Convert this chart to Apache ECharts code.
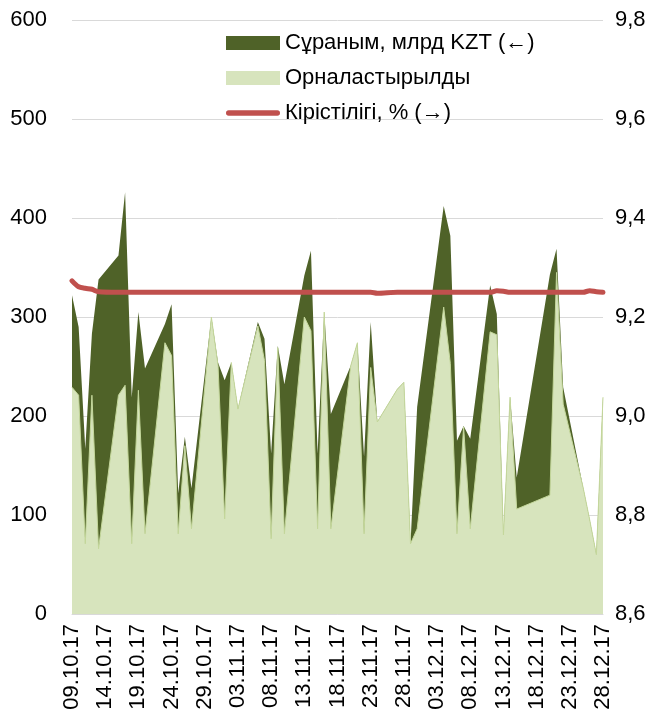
<!DOCTYPE html>
<html>
<head>
<meta charset="utf-8">
<script src="https://cdn.jsdelivr.net/npm/echarts@6/dist/echarts.min.js"></script>
<style>
  html, body { margin: 0; padding: 0; background: #fff; }
  #chart { width: 662px; height: 715px; }
</style>
</head>
<body>
<div id="chart"></div>
<script>
// auction days and values
var dates = ['09.10.17', '10.10.17', '11.10.17', '12.10.17', '13.10.17', '16.10.17', '17.10.17', '18.10.17', '19.10.17', '20.10.17',
  '23.10.17', '24.10.17', '25.10.17', '26.10.17', '27.10.17', '30.10.17', '31.10.17', '01.11.17', '02.11.17', '03.11.17',
  '06.11.17', '07.11.17', '08.11.17', '09.11.17', '10.11.17', '13.11.17', '14.11.17', '15.11.17', '16.11.17', '17.11.17',
  '20.11.17', '21.11.17', '22.11.17', '23.11.17', '24.11.17', '27.11.17', '28.11.17', '29.11.17', '30.11.17',
  '04.12.17', '05.12.17', '06.12.17', '07.12.17', '08.12.17', '11.12.17', '12.12.17', '13.12.17', '14.12.17', '15.12.17',
  '20.12.17', '21.12.17', '22.12.17', '25.12.17', '26.12.17', '27.12.17', '28.12.17']
var demand = [322, 290, 167, 283, 338, 362, 426, 219, 305, 248,
  293, 313, 122, 179, 127, 300, 254, 236, 254, 207,
  295, 278, 162, 271, 232, 342, 367, 162, 305, 202,
  251, 274, 159, 295, 194, 227, 234, 71, 209,
  412, 382, 175, 190, 177, 332, 303, 80, 219, 138,
  343, 369, 229, 128, 95, 60, 219]
var placed = [229, 221, 71, 221, 66, 221, 231, 71, 226, 81,
  274, 261, 81, 170, 86, 300, 251, 96, 254, 207,
  291, 256, 76, 269, 81, 300, 286, 86, 305, 86,
  251, 274, 81, 249, 194, 227, 234, 71, 86,
  310, 253, 81, 189, 86, 285, 282, 80, 219, 106,
  120, 345, 212, 128, 95, 60, 219]
var yieldPct = [9.273, 9.261, 9.258, 9.256, 9.251, 9.25, 9.25, 9.25, 9.25, 9.25,
  9.25, 9.25, 9.25, 9.25, 9.25, 9.25, 9.25, 9.25, 9.25, 9.25,
  9.25, 9.25, 9.25, 9.25, 9.25, 9.25, 9.25, 9.25, 9.25, 9.25,
  9.25, 9.25, 9.25, 9.25, 9.248, 9.25, 9.25, 9.25, 9.25,
  9.25, 9.25, 9.25, 9.25, 9.25, 9.25, 9.253, 9.252, 9.25, 9.25,
  9.25, 9.25, 9.25, 9.25, 9.253, 9.251, 9.25]
var names = ['Сұраным, млрд KZT (←)', 'Орналастырылды', 'Кірістілігі, % (→)']

// calendar axis: every day from first to last date
function parse(s) {
  var p = s.split('.')
  return Date.UTC(2000 + +p[2], +p[1] - 1, +p[0])
}
function fmt(t) {
  var d = new Date(t)
  var dd = ('0' + d.getUTCDate()).slice(-2)
  var mm = ('0' + (d.getUTCMonth() + 1)).slice(-2)
  return dd + '.' + mm + '.' + String(d.getUTCFullYear()).slice(-2)
}
var days = []
for (var t = parse(dates[0]); t <= parse(dates[dates.length - 1]); t += 86400000) {
  days.push(fmt(t))
}
function spread(vals) {
  var out = days.map(function () { return null })
  dates.forEach(function (d, i) { out[days.indexOf(d)] = vals[i] })
  return out
}

var font = "'Liberation Sans', Arial, sans-serif"
var chart = echarts.init(document.getElementById('chart'))
chart.setOption({
  animation: false,
  textStyle: { fontFamily: font },
  grid: { left: 72, right: 59, top: 20, bottom: 101, outerBoundsMode: 'none' },
  legend: {
    orient: 'vertical',
    left: 221,
    top: 27,
    itemWidth: 54,
    itemHeight: 14,
    itemGap: 13,
    padding: [5, 8, 4, 5],
    textStyle: { fontFamily: font, fontSize: 22, color: '#000' },
    data: [
      { name: names[0], icon: 'rect', itemStyle: { color: '#4F6228' } },
      { name: names[1], icon: 'rect', itemStyle: { color: '#D7E4BD' } },
      {
        name: names[2],
        icon: 'path://M5,0 L95,0 A5,5 0 0 1 95,10 L5,10 A5,5 0 0 1 5,0 Z',
        itemStyle: { color: '#C0504D', borderWidth: 0 }
      }
    ]
  },
  xAxis: {
    type: 'category',
    data: days,
    boundaryGap: false,
    axisTick: { show: false },
    axisLine: { lineStyle: { color: '#D9D9D9', width: 1 } },
    axisLabel: { interval: 4, rotate: 90, margin: 10, fontSize: 22, color: '#000', fontFamily: font }
  },
  yAxis: [{
    type: 'value',
    min: 0,
    max: 600,
    interval: 100,
    axisLine: { show: false },
    axisTick: { show: false },
    splitLine: { lineStyle: { color: '#D9D9D9', width: 1 } },
    axisLabel: { margin: 25, fontSize: 22, color: '#000', fontFamily: font }
  }, {
    type: 'value',
    min: 8.6,
    max: 9.8,
    interval: 0.2,
    axisLine: { show: false },
    axisTick: { show: false },
    splitLine: { show: false },
    axisLabel: {
      margin: 12, fontSize: 22, color: '#000', fontFamily: font,
      formatter: function (v) { return v.toFixed(1).replace('.', ',') }
    }
  }],
  series: [{
    name: names[0],
    type: 'line',
    data: spread(demand),
    connectNulls: true,
    symbol: 'none',
    lineStyle: { width: 0, color: '#4F6228' },
    itemStyle: { color: '#4F6228' },
    areaStyle: { color: '#4F6228', opacity: 1 }
  }, {
    name: names[1],
    type: 'line',
    data: spread(placed),
    connectNulls: true,
    symbol: 'none',
    lineStyle: { width: 1, color: '#C4D79B' },
    itemStyle: { color: '#D7E4BD' },
    areaStyle: { color: '#D7E4BD', opacity: 1 }
  }, {
    name: names[2],
    type: 'line',
    yAxisIndex: 1,
    data: spread(yieldPct),
    connectNulls: true,
    symbol: 'none',
    smooth: 0.3,
    lineStyle: { width: 5, color: '#C0504D', cap: 'round' },
    itemStyle: { color: '#C0504D' }
  }]
})
</script>
</body>
</html>
